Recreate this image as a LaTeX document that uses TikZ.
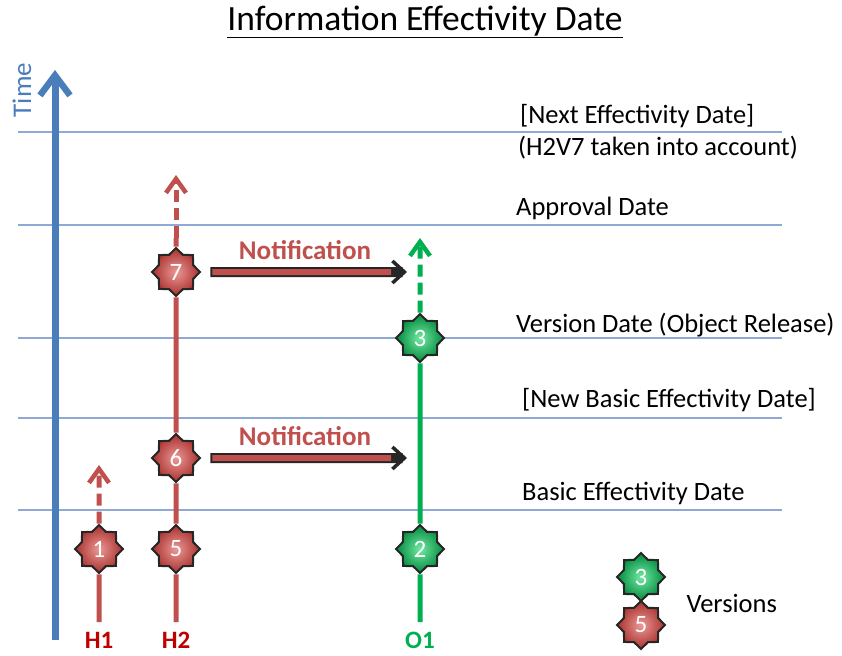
\documentclass[tikz,border=0pt]{standalone}
\usepackage{fontspec}
\setmainfont{Carlito}
\usetikzlibrary{shapes.geometric,arrows.meta}

\definecolor{axisblue}{HTML}{4A7EBB}
\definecolor{gridblue}{HTML}{8EA9D3}
\definecolor{hred}{HTML}{C0504D}
\definecolor{hdark}{HTML}{C00000}
\definecolor{ogreen}{HTML}{00B050}
\definecolor{starredin}{HTML}{EB9996}
\definecolor{starredout}{HTML}{A8302D}
\definecolor{stargreenin}{HTML}{74E8A4}
\definecolor{stargreenout}{HTML}{008A3C}

\tikzset{
  version/.style={star, star points=8, star point ratio=1.3, minimum size=48pt,
    inner sep=0pt, draw=black!85, line width=2pt, text=white,
    font=\fontsize{25}{25}\selectfont},
  redver/.style={version, inner color=starredin, outer color=starredout},
  greenver/.style={version, inner color=stargreenin, outer color=stargreenout},
  gridline/.style={draw=gridblue, line width=1.1pt},
  datelabel/.style={anchor=west, inner sep=0pt, font=\fontsize{26.5}{26.5}\selectfont},
  timeaxis/.style={draw=axisblue, line width=7pt,
    -{Straight Barb[length=20pt,width=30pt,line width=6.5pt]}},
  life/.style={line width=5pt},
  future/.style={life, dash pattern=on 12pt off 6pt,
    -{Straight Barb[length=14pt,width=20pt,line width=4.5pt]}},
  notifback/.style={draw=black!85, line width=10pt,
    -{Straight Barb[length=12pt,width=22pt,line width=3.5pt]}},
  notiffront/.style={draw=hred, line width=6pt, shorten <=2pt, shorten >=16pt},
  notiflabel/.style={text=hred, font=\bfseries\fontsize{27}{27}\selectfont},
  trackname/.style={inner sep=0pt, font=\bfseries\fontsize{25}{25}\selectfont},
}

\begin{document}
\begin{tikzpicture}[x=1pt,y=-1pt]
  \useasboundingbox (0,0) rectangle (842,655);

  % title
  \node (title) at (425,22) {\fontsize{35.5}{35.5}\selectfont\underline{Information Effectivity Date}};

  % date grid
  \foreach \yy/\nm in {132/g1,225/g2,338/g3,418/g4,510/g5}{
    \coordinate (\nm w) at (18,\yy);
    \coordinate (\nm e) at (782,\yy);
    \draw[gridline] (\nm w) -- (\nm e);
  }

  % time axis
  \coordinate (tb) at (55,640);
  \coordinate (tt) at (55,70);
  \draw[timeaxis] (tb) -- (tt);
  \node[rotate=90, text=axisblue, font=\fontsize{27}{27}\selectfont] (time) at (22,90) {Time};

  % date labels
  \node[datelabel] (l1) at (520,116) {[Next Effectivity Date]};
  \node[datelabel] (l2) at (518,148) {(H2V7 taken into account)};
  \node[datelabel] (l3) at (516,208) {Approval Date};
  \node[datelabel] (l4) at (516,325) {Version Date (Object Release)};
  \node[datelabel] (l5) at (522,400) {[New Basic Effectivity Date]};
  \node[datelabel] (l6) at (522,493) {Basic Effectivity Date};

  % version stars
  \node[redver]   (v1) at (99,549)  {1};
  \node[redver]   (v5) at (176,549) {5};
  \node[redver]   (v6) at (176,458) {6};
  \node[redver]   (v7) at (176,272) {7};
  \node[greenver] (v2) at (420,549) {2};
  \node[greenver] (v3) at (420,338) {3};

  % life lines
  \coordinate (h1b) at (99,622);
  \coordinate (h1t) at (99,465);
  \coordinate (h2b) at (176,622);
  \coordinate (h2m) at (176,238);
  \coordinate (h2t) at (176,175);
  \coordinate (o1b) at (420,622);
  \coordinate (o1t) at (420,238);

  \draw[life, hred] (h1b) -- (v1);
  \draw[future, hred] (v1) -- (h1t);

  \draw[life, hred] (h2b) -- (v5);
  \draw[life, hred] (v5) -- (v6);
  \draw[life, hred] (v6) -- (v7);
  \draw[life, hred] (v7) -- (h2m);
  \draw[future, hred] (h2m) -- (h2t);

  \draw[life, ogreen] (o1b) -- (v2);
  \draw[life, ogreen] (v2) -- (v3);
  \draw[future, ogreen] (v3) -- (o1t);

  % notifications
  \coordinate (n6e) at (407,458);
  \coordinate (n7e) at (407,272);
  \draw[notifback] ([xshift=9pt]v6.east) -- (n6e);
  \draw[notiffront] ([xshift=9pt]v6.east) -- (n6e);
  \draw[notifback] ([xshift=9pt]v7.east) -- (n7e);
  \draw[notiffront] ([xshift=9pt]v7.east) -- (n7e);
  \node[notiflabel] (nt6) at (305,436) {Notification};
  \node[notiflabel] (nt7) at (305,250) {Notification};

  % track names
  \node[trackname, text=hdark]  (H1) at (99,640)  {H1};
  \node[trackname, text=hdark]  (H2) at (176,640) {H2};
  \node[trackname, text=ogreen] (O1) at (420,640) {O1};

  % legend
  \node[greenver] (lg) at (641,577) {3};
  \node[redver]   (lr) at (641,625) {5};
  \node[anchor=west, font=\fontsize{26.5}{26.5}\selectfont] (lv) at (683,603) {Versions};
\end{tikzpicture}
\end{document}
